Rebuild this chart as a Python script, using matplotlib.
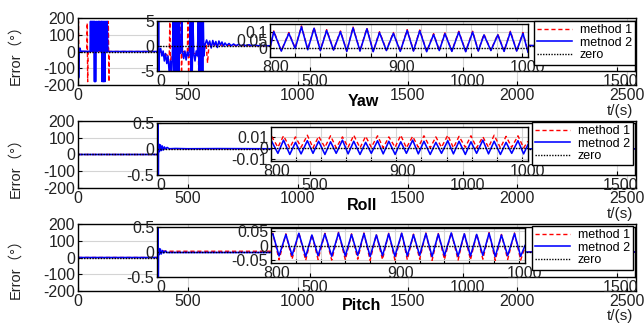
import matplotlib
matplotlib.use('Agg')
import matplotlib.pyplot as plt
from matplotlib.transforms import ScaledTranslation

plt.rcParams['font.family'] = ['Liberation Sans', 'Noto Sans CJK SC', 'DejaVu Sans']
plt.rcParams['axes.unicode_minus'] = False

# ---------------- data ----------------
# Yaw, angle wrap-around seen on the +-200 scale (main axes)
yaw_t_wrap2 = [0, 2, 4, 6, 9, 12,
               55, 57, 59, 62, 64, 67, 69, 72, 75, 77, 80, 82,
               86, 89, 93, 96, 100, 103, 107, 110, 113, 116, 119, 122, 124, 127, 130, 133, 136, 145]
yaw_m2_wrap = [0, -160, -150, 15, 20, 2,
               0, 180, 0, 180, 10, 180, 0, 180, -180, 180, -180, 0,
               180, 0, 180, 5, 180, 0, 180, -180, 180, -180, 180, -180, 0, 180, 0, 180, 0, 0]
yaw_t_wrap1 = [0, 2, 4, 6, 40, 42, 44, 46, 97, 99, 101, 136, 138, 141, 143, 145]
yaw_m1_wrap = [0, 180, -100, 0, 0, 170, -180, 0, 0, 180, 0, 0, 180, -180, 0, 0]

# Yaw start, seen on the +-5 scale
yaw_t_start2 = [0, 1, 2, 3, 4, 5, 6, 8,
                12, 16, 20, 24, 28, 32, 36, 40, 44, 48, 50,
                53, 55, 57, 59, 61, 63, 65, 67, 69, 71, 73,
                75, 77, 79, 81, 83,
                87, 91, 95, 99, 103, 106,
                109, 111, 113, 115, 117,
                120, 124, 128, 132,
                135, 137, 139, 141, 143, 145, 147, 149, 151, 153,
                157, 162, 167, 172, 177, 182, 187, 192, 197, 202, 207, 212, 217, 222, 228,
                235, 242, 250, 258, 266, 274, 282, 290, 300, 310, 320, 330, 345, 360]
yaw_m2_start = [0, 5.5, -5.5, 5.5, -5.5, 5.5, -5.5, -1,
                -0.5, -2.0, -1.0, -3.0, -1.5, -3.5, -2.0, -5.5, -3.0, -5.5, -2.0,
                5.5, -5.5, 5.5, -5.5, 5.5, -5.5, 5.5, -5.5, 5.5, -5.5, 5.5,
                -1.0, -1.5, -0.5, 5.5, -1.0,
                -2.5, -1.0, -2.8, -1.2, -2.0, -0.8,
                5.5, -5.5, 5.5, -5.5, 5.5,
                -1.5, -3.0, -1.0, -2.0,
                5.5, -5.5, 5.5, -5.5, 5.5, -5.5, 5.5, -5.5, 5.5, -2.0,
                0.3, 1.2, 0.2, 1.0, -0.4, 1.1, 0.1, 0.9, -0.3, 1.0, 0.2, 0.8, 0.0, 0.6, 0.1,
                0.5, 0.05, 0.4, 0.05, 0.35, 0.0, 0.3, 0.05, 0.25, 0.05, 0.2, 0.05, 0.1, 0.05]
yaw_t_start1 = [0, 2, 4, 6, 20, 40, 42, 44, 46, 60, 76, 78, 80, 82, 99, 101, 103, 105, 120,
                132, 134, 136, 138, 150, 160, 165, 170, 180, 200, 250, 360]
yaw_m1_start = [0, 5.5, -5.5, -1, -1.5, -2, 5.5, -5.5, -2, -1.5, -1, 5.5, -5.5, -1, -1.5, 5.5, -5.5, -1.5, -1.5,
                -1.5, 5.5, -5.5, 0, 0.3, 0.5, -3.4, 0.5, 0.3, 0.2, 0.1, 0.05]

# Yaw oscillation 800-1005 s (peaks and troughs)
yaw_t_osc = [800, 803, 809, 815, 820, 825, 830, 835, 840, 845,
             850.5, 856, 861, 866, 871.5, 877, 882, 887, 892.5, 898,
             903.5, 909, 914, 919, 924.5, 930, 934.5, 939, 944.5, 950,
             955.5, 961, 965.5, 970, 975.5, 981, 986, 991, 996, 1001,
             1005]
yaw_m2_osc = [0.0, 0.102, -0.018, 0.092, -0.002, 0.133, -0.010, 0.123, -0.015, 0.110,
              -0.012, 0.102, -0.020, 0.126, -0.018, 0.120, -0.022, 0.097, -0.015, 0.092,
              -0.020, 0.110, -0.018, 0.108, -0.022, 0.085, -0.015, 0.090, -0.020, 0.100,
              -0.022, 0.100, -0.018, 0.082, -0.015, 0.082, -0.020, 0.100, -0.018, 0.092,
              -0.025]
yaw_m1_osc = [0.0, 0.107, -0.016, 0.097, 0.000, 0.138, -0.008, 0.128, -0.013, 0.115,
              -0.010, 0.107, -0.018, 0.131, -0.016, 0.125, -0.020, 0.102, -0.013, 0.097,
              -0.018, 0.115, -0.016, 0.113, -0.020, 0.090, -0.013, 0.095, -0.018, 0.105,
              -0.020, 0.105, -0.016, 0.087, -0.013, 0.087, -0.018, 0.105, -0.016, 0.097,
              -0.023]
yaw_t_tail = [1010, 2500]
yaw_m1_tail = [0.1, 0.1]
yaw_m2_tail = [0.1, 0.1]

# Roll
roll_t_start2 = [0, 0.5, 1.5, 2.5, 3.5, 5, 8, 11, 14, 17, 20, 24, 28, 33, 40, 60, 100, 200, 360]
roll_m2_start = [0, 2, -2, 2, -2, 0.1, -0.05, 0.08, -0.03, 0.06, -0.02, 0.04, 0.0, 0.03, 0.005,
                 0.01, 0.005, 0.008, 0.005]
roll_t_start1 = [0, 5, 10, 20, 40, 360]
roll_m1_start = [0, 0.02, -0.01, 0.01, 0.005, 0.005]
roll_t_osc = [800.5, 805.5, 810, 815, 819.5, 824, 829, 833.5, 838, 843,
              847.5, 852, 857, 861.5, 866, 871, 875.5, 880, 885, 889.5,
              894, 899, 903.5, 908, 913, 917.5, 922, 927, 931.5, 936,
              941, 945.5, 950, 955, 959.5, 964, 969, 973.5, 978, 983,
              987.5, 992, 997, 1001.5, 1005]
roll_m2_osc = [0.006, -0.005, 0.007, -0.006, 0.005, -0.0055, 0.0065, -0.005, 0.006, -0.006,
               0.0055, -0.005, 0.007, -0.0055, 0.006, -0.006, 0.005, -0.005, 0.0065, -0.0055,
               0.006, -0.006, 0.0055, -0.005, 0.007, -0.0055, 0.006, -0.006, 0.005, -0.005,
               0.0065, -0.0055, 0.006, -0.006, 0.0055, -0.005, 0.007, -0.0055, 0.006, -0.006,
               0.005, -0.005, 0.0065, -0.0055, 0.003]
roll_m1_osc = [0.0105, 0.0005, 0.0110, 0.0, 0.0100, 0.0005, 0.0115, 0.0, 0.0105, 0.0005,
               0.0110, 0.0, 0.0100, 0.0005, 0.0115, 0.0, 0.0105, 0.0005, 0.0110, 0.0,
               0.0100, 0.0005, 0.0115, 0.0, 0.0105, 0.0005, 0.0110, 0.0, 0.0100, 0.0005,
               0.0115, 0.0, 0.0105, 0.0005, 0.0110, 0.0, 0.0100, 0.0005, 0.0115, 0.0,
               0.0105, 0.0005, 0.0110, 0.0, 0.006]
roll_t_tail = [1010, 2500]
roll_m1_tail = [0.003, 0.003]
roll_m2_tail = [0.003, 0.003]

# Pitch
pitch_t_start2 = [0, 0.5, 1.5, 2.5, 3.5, 5, 8, 11, 14, 18, 22, 27, 33, 40, 360]
pitch_m2_start = [0, 2, -2, 2, -2, 0.08, -0.05, 0.06, -0.04, 0.03, -0.02, 0.02, -0.01, -0.01, -0.01]
pitch_t_start1 = [0, 5, 10, 20, 40, 360]
pitch_m1_start = [0, 0.03, 0.0, 0.02, 0.015, 0.015]
pitch_t_osc = [800, 801.5, 806.5, 812, 817, 822.5, 828, 833, 838, 843.5,
               849, 854.5, 860, 865, 870, 875, 880, 885, 890, 895,
               900, 905.5, 910, 915, 920, 925, 930, 935, 940, 945.5,
               951, 956, 961, 966, 971, 976, 981, 986, 991, 996.5,
               1001.5, 1005]
pitch_m2_osc = [0.035, 0.040, -0.036, 0.038, -0.034, 0.042, -0.038, 0.036, -0.035, 0.040,
                -0.037, 0.043, -0.036, 0.038, -0.034, 0.041, -0.038, 0.036, -0.035, 0.040,
                -0.037, 0.042, -0.036, 0.037, -0.034, 0.041, -0.038, 0.039, -0.035, 0.043,
                -0.037, 0.040, -0.036, 0.038, -0.034, 0.042, -0.038, 0.036, -0.035, 0.041,
                -0.037, 0.0]
pitch_m1_osc = [0.036, 0.042, -0.049, 0.040, -0.047, 0.044, -0.051, 0.038, -0.048, 0.042,
                -0.050, 0.045, -0.049, 0.040, -0.047, 0.043, -0.051, 0.038, -0.048, 0.042,
                -0.050, 0.044, -0.049, 0.039, -0.047, 0.043, -0.051, 0.041, -0.048, 0.045,
                -0.050, 0.042, -0.049, 0.040, -0.047, 0.044, -0.051, 0.038, -0.048, 0.043,
                -0.050, -0.005]
pitch_t_tail = [1010, 2500]
pitch_m1_tail = [0.0, 0.0]
pitch_m2_tail = [0.0, 0.0]

# tick labels
main_xticks = [0, 500, 1000, 1500, 2000, 2500]
main_yticks = [-200, -100, 0, 100, 200]
mid_xticks = [0, 500, 1000, 1500]
zoom_xticks = [800, 820, 840, 860, 880, 900, 920, 940, 960, 980, 1000]
zoom_xlabels = ['800', '', '', '', '', '900', '', '', '', '', '1000']
yaw_mid_yticks = [-5, 0, 5]
yaw_mid_ylabels = ['-5', '0', '5']
rp_mid_yticks = [-0.5, 0, 0.5]
rp_mid_ylabels = ['-0.5', '0', '0.5']
yaw_zoom_yticks = [0, 0.05, 0.1]
yaw_zoom_ylabels = ['0', '0.05', '0.1']
roll_zoom_yticks = [-0.01, 0, 0.01]
roll_zoom_ylabels = ['-0.01', '0', '0.01']
pitch_zoom_yticks = [-0.05, 0, 0.05]
pitch_zoom_ylabels = ['-0.05', '0', '0.05']

legend_labels = ['method 1', 'metnod 2', 'zero']

# ---------------- layout (pixels) ----------------
W, H = 644, 323
RED, BLUE = '#ff0000', '#0000ff'


def box(l, t, r, b):
    return [l / W, 1 - b / H, (r - l) / W, (b - t) / H]


def style(ax, xlim, ylim, xt, xl, yt, yl, shift=0):
    ax.set_xlim(xlim)
    ax.set_ylim(ylim)
    ax.set_xticks(xt)
    ax.set_xticklabels(xl)
    ax.set_yticks(yt)
    ax.set_yticklabels(yl)
    ax.tick_params(direction='in', length=3, width=0.8, labelsize=11.5, pad=2,
                   labelcolor='#222222')
    ax.grid(True, color='#d4d4d4', lw=0.8)
    ax.set_axisbelow(True)
    for s in ax.spines.values():
        s.set_linewidth(1.0)
        s.set_color('black')
    # the x labels of the insets sit a few pixels right of their ticks
    if shift:
        off = ScaledTranslation(shift / 100, 0, ax.figure.dpi_scale_trans)
        for lab in ax.get_xticklabels():
            lab.set_transform(lab.get_transform() + off)


def lines(ax, t1, m1, t2, m2, x0, x1):
    a, = ax.plot(t1, m1, color=RED, lw=1.0, ls=(0, (3, 2)))
    b, = ax.plot(t2, m2, color=BLUE, lw=1.15)
    c, = ax.plot([x0, x1], [0, 0], color='black', lw=1.0, ls=(0, (1, 1)))
    return [a, b, c]


rows = [
    dict(name='Yaw',
         main=(yaw_t_wrap1 + yaw_t_osc + yaw_t_tail, yaw_m1_wrap + yaw_m1_osc + yaw_m1_tail,
               yaw_t_wrap2 + yaw_t_osc + yaw_t_tail, yaw_m2_wrap + yaw_m2_osc + yaw_m2_tail),
         mid=(yaw_t_start1 + yaw_t_osc + yaw_t_tail, yaw_m1_start + yaw_m1_osc + yaw_m1_tail,
              yaw_t_start2 + yaw_t_osc + yaw_t_tail, yaw_m2_start + yaw_m2_osc + yaw_m2_tail),
         osc=(yaw_t_osc, yaw_m1_osc, yaw_t_osc, yaw_m2_osc),
         mid_y=((-5, 5), yaw_mid_yticks, yaw_mid_ylabels),
         zoom_y=((-0.055, 0.15), yaw_zoom_yticks, yaw_zoom_ylabels),
         main_box=(78, 18, 636, 85), mid_box=(157, 21, 635, 71), zoom_box=(270, 24, 528, 57),
         leg=(635, 21), title=(363, 101), tlab=(620, 111), ylab=(15, 51)),
    dict(name='Roll',
         main=(roll_t_start1 + roll_t_osc + roll_t_tail, roll_m1_start + roll_m1_osc + roll_m1_tail,
               roll_t_start2 + roll_t_osc + roll_t_tail, roll_m2_start + roll_m2_osc + roll_m2_tail),
         mid=(roll_t_start1 + roll_t_osc + roll_t_tail, roll_m1_start + roll_m1_osc + roll_m1_tail,
              roll_t_start2 + roll_t_osc + roll_t_tail, roll_m2_start + roll_m2_osc + roll_m2_tail),
         osc=(roll_t_osc, roll_m1_osc, roll_t_osc, roll_m2_osc),
         mid_y=((-0.5, 0.5), rp_mid_yticks, rp_mid_ylabels),
         zoom_y=((-0.012, 0.019), roll_zoom_yticks, roll_zoom_ylabels),
         main_box=(78, 121, 636, 188), mid_box=(157, 123, 635, 175), zoom_box=(271, 127, 528, 161),
         leg=(633, 122), title=(362, 205), tlab=(620, 214), ylab=(15, 164)),
    dict(name='Pitch',
         main=(pitch_t_start1 + pitch_t_osc + pitch_t_tail, pitch_m1_start + pitch_m1_osc + pitch_m1_tail,
               pitch_t_start2 + pitch_t_osc + pitch_t_tail, pitch_m2_start + pitch_m2_osc + pitch_m2_tail),
         mid=(pitch_t_start1 + pitch_t_osc + pitch_t_tail, pitch_m1_start + pitch_m1_osc + pitch_m1_tail,
              pitch_t_start2 + pitch_t_osc + pitch_t_tail, pitch_m2_start + pitch_m2_osc + pitch_m2_tail),
         osc=(pitch_t_osc, pitch_m1_osc, pitch_t_osc, pitch_m2_osc),
         mid_y=((-0.5, 0.5), rp_mid_yticks, rp_mid_ylabels),
         zoom_y=((-0.06, 0.06), pitch_zoom_yticks, pitch_zoom_ylabels),
         main_box=(78, 224, 636, 291), mid_box=(157, 227, 635, 277), zoom_box=(271, 228, 525, 263),
         leg=(633, 226), title=(362, 306), tlab=(620, 316), ylab=(15, 265)),
]

fig = plt.figure(figsize=(W / 100, H / 100), dpi=100)

for r in rows:
    # main axes, 0-2500 s
    ax1 = fig.add_axes(box(*r['main_box']))
    lines(ax1, *r['main'], 0, 2540)
    style(ax1, (0, 2540), (-200, 200), main_xticks, [str(v) for v in main_xticks],
          main_yticks, [str(v) for v in main_yticks])

    # first inset, 0-1500 s
    ax2 = fig.add_axes(box(*r['mid_box']))
    lines(ax2, *r['mid'], 0, 1560)
    ylim, yt, yl = r['mid_y']
    style(ax2, (0, 1560), ylim, mid_xticks, [str(v) for v in mid_xticks], yt, yl, shift=4)

    # second inset, 800-1000 s
    ax3 = fig.add_axes(box(*r['zoom_box']))
    hs = lines(ax3, *r['osc'], 800, 1005)
    ylim, yt, yl = r['zoom_y']
    style(ax3, (800, 1005), ylim, zoom_xticks, zoom_xlabels, yt, yl, shift=6)

    lx, ly = r['leg']
    leg = ax3.legend(hs, legend_labels, loc='upper right',
                     bbox_to_anchor=(lx / W, 1 - ly / H), bbox_transform=fig.transFigure,
                     fontsize=9, frameon=True, fancybox=False, edgecolor='black',
                     framealpha=1, borderpad=0.25, labelspacing=0.05, handlelength=2.8,
                     handletextpad=0.6, borderaxespad=0)
    leg.get_frame().set_linewidth(1.0)

    x, y = r['title']
    fig.text(x / W, 1 - y / H, r['name'], ha='center', va='center',
             fontsize=11.5, fontweight='bold')
    x, y = r['tlab']
    fig.text(x / W, 1 - y / H, 't/(s)', ha='center', va='center', fontsize=11,
             color='#222222')
    x, y = r['ylab']
    fig.text(x / W, 1 - y / H, 'Error（°）', ha='center', va='center', rotation=90,
             fontsize=10.5, color='#222222')

fig.savefig('out.png', dpi=100)
